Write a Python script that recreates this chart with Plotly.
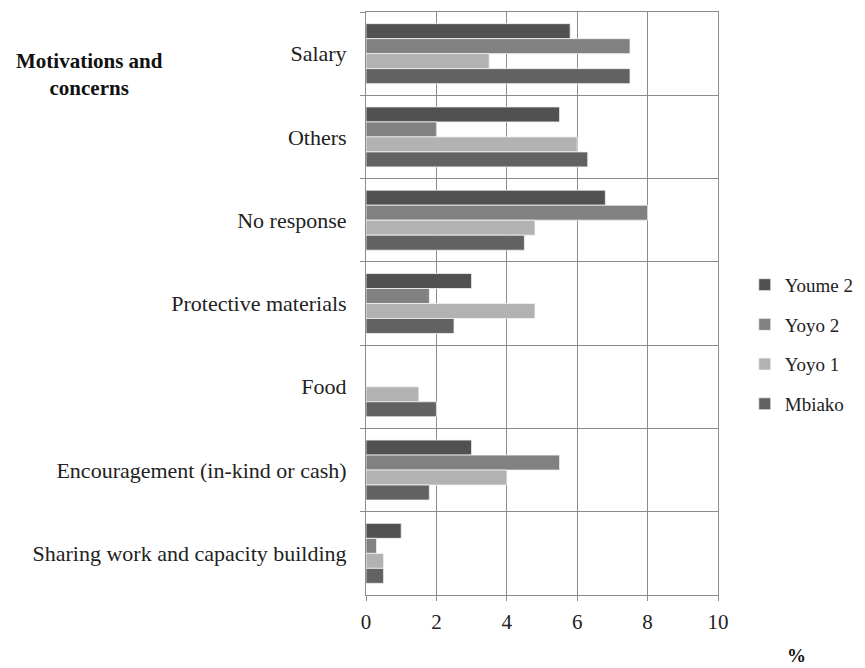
import plotly.graph_objects as go

# Categories listed top to bottom
categories = [
    "Salary",
    "Others",
    "No response",
    "Protective materials",
    "Food",
    "Encouragement (in-kind or cash)",
    "Sharing work and capacity building",
]

youme2 = [5.8, 5.5, 6.8, 3.0, 0.0, 3.0, 1.0]
yoyo2 = [7.5, 2.0, 8.0, 1.8, 0.0, 5.5, 0.3]
yoyo1 = [3.5, 6.0, 4.8, 4.8, 1.5, 4.0, 0.5]
mbiako = [7.5, 6.3, 4.5, 2.5, 2.0, 1.8, 0.5]

x_ticks = [0, 2, 4, 6, 8, 10]

series = [
    ("Youme 2", youme2, "#515151"),
    ("Yoyo 2", yoyo2, "#818181"),
    ("Yoyo 1", yoyo1, "#b2b2b2"),
    ("Mbiako", mbiako, "#626262"),
]

serif = "Liberation Serif"
grid = "#8c8c8c"

fig = go.Figure()
for name, vals, color in series:
    fig.add_trace(go.Bar(
        y=categories, x=vals, name=name, orientation="h",
        marker=dict(color=color, line=dict(color="#f2f2f2", width=0.8)),
        legendgroup=name,
    ))

fig.update_layout(
    width=865, height=668,
    margin=dict(l=366, r=147, t=12, b=73, autoexpand=False),
    paper_bgcolor="white", plot_bgcolor="white",
    barmode="group", bargap=0.28, bargroupgap=0,
    font=dict(family=serif, color="#222222", size=22),
    legend=dict(
        traceorder="grouped", x=1.076, xanchor="left", y=0.43, yanchor="middle",
        font=dict(family=serif, size=19, color="#222222"),
        tracegroupgap=12, itemwidth=30,
    ),
    xaxis=dict(
        range=[0, 10], tickvals=x_ticks, ticktext=[str(v) for v in x_ticks],
        showgrid=True, gridcolor=grid, gridwidth=1,
        showline=True, linecolor=grid, mirror=True,
        ticks="outside", ticklen=5, tickcolor=grid,
        tickfont=dict(family=serif, size=21), ticklabelstandoff=3, zeroline=False,
    ),
    yaxis=dict(
        categoryorder="array", categoryarray=categories, autorange="reversed",
        tickson="boundaries", showgrid=True, gridcolor=grid, gridwidth=1,
        showline=True, linecolor=grid, mirror=True,
        ticks="outside", ticklen=5, tickcolor=grid,
        tickfont=dict(family=serif, size=22), ticklabelstandoff=14,
    ),
)

fig.add_annotation(
    text="<b>Motivations and<br>concerns</b>", xref="paper", yref="paper",
    x=-0.785, y=1.0, xanchor="center", yanchor="top", showarrow=False,
    font=dict(family=serif, size=21, color="#111111"), align="center",
    yshift=-35,
)
fig.add_annotation(
    text="<b>%</b>", xref="paper", yref="paper",
    x=1.224, y=-0.104, xanchor="center", yanchor="middle", showarrow=False,
    font=dict(family=serif, size=19, color="#111111"),
)

fig.write_html("out.html")
